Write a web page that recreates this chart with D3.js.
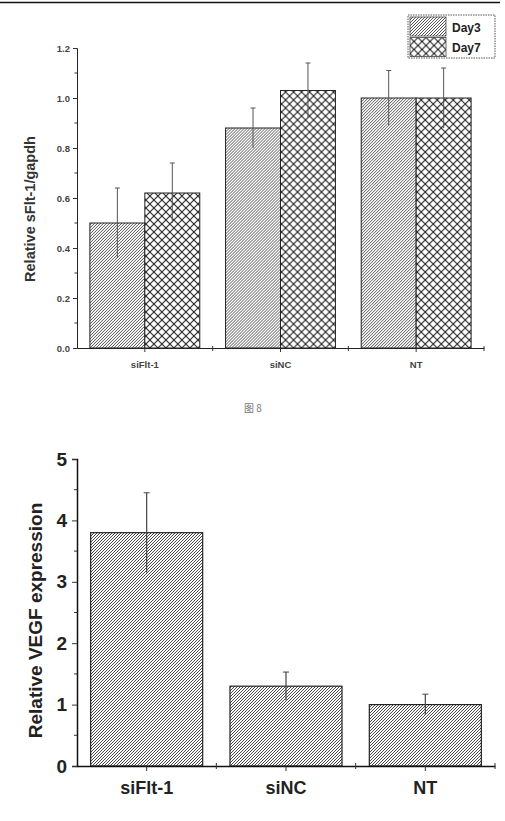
<!DOCTYPE html>
<html>
<head>
<meta charset="utf-8">
<script src="https://cdn.jsdelivr.net/npm/d3@7"></script>
<style>
  html, body { margin: 0; padding: 0; background: #fff; }
  svg { display: block; font-family: 'Liberation Sans', Arial, sans-serif; }
</style>
</head>
<body>
<div id="chart"></div>
<script>
// ---- data ----
const groups = ['siFlt-1', 'siNC', 'NT'];
const seriesNames = ['Day3', 'Day7'];
const day3 = [0.50, 0.88, 1.00];
const day3Err = [0.14, 0.08, 0.11];
const day7 = [0.62, 1.03, 1.00];
const day7Err = [0.12, 0.11, 0.12];
const topTicks = [0.0, 0.2, 0.4, 0.6, 0.8, 1.0, 1.2];
const topTitle = 'Relative sFlt-1/gapdh';

const vegf = [3.80, 1.30, 1.00];
const vegfErr = [0.65, 0.23, 0.17];
const bottomTicks = [0, 1, 2, 3, 4, 5];
const bottomTitle = 'Relative VEGF expression';
const caption = '图 8';

(function () {
  'use strict';

  const W = 505, H = 821;
  const svg = d3.select('#chart').append('svg')
    .attr('width', W).attr('height', H);

  // ---- hatch patterns ----
  const defs = svg.append('defs');

  function diagPattern(id, size, color, sw) {
    const p = defs.append('pattern')
      .attr('id', id)
      .attr('patternUnits', 'userSpaceOnUse')
      .attr('width', size).attr('height', size);
    p.append('rect').attr('width', size).attr('height', size).attr('fill', '#fff');
    p.append('path')
      .attr('d', `M0,${size} L${size},0 M${-size / 2},${size / 2} L${size / 2},${-size / 2} M${size / 2},${size * 1.5} L${size * 1.5},${size / 2}`)
      .attr('stroke', color).attr('stroke-width', sw);
  }
  diagPattern('hatch-day3', 3, '#555', 1);
  diagPattern('hatch-vegf', 3, '#484848', 1);

  const cross = defs.append('pattern')
    .attr('id', 'hatch-day7')
    .attr('patternUnits', 'userSpaceOnUse')
    .attr('width', 8).attr('height', 8);
  cross.append('rect').attr('width', 8).attr('height', 8).attr('fill', '#fff');
  cross.append('path')
    .attr('d', 'M0,0 L8,8 M0,8 L8,0')
    .attr('stroke', '#222').attr('stroke-width', 1.1);

  const fills = { Day3: 'url(#hatch-day3)', Day7: 'url(#hatch-day7)' };

  // top rule line
  svg.append('line')
    .attr('x1', 0).attr('x2', 500).attr('y1', 2.5).attr('y2', 2.5)
    .attr('stroke', '#111').attr('stroke-width', 1.5);

  // =========== TOP CHART ===========
  const tX = d3.scaleBand().domain(groups).range([77, 484])
    .paddingInner(0.19).paddingOuter(0.095);
  const tSub = d3.scaleBand().domain(seriesNames).range([0, tX.bandwidth()]);
  const tY = d3.scaleLinear().domain([0, 1.2]).range([348, 48]);

  const topRows = groups.map((g, i) => ({
    group: g,
    vals: [
      { s: 'Day3', v: day3[i], e: day3Err[i] },
      { s: 'Day7', v: day7[i], e: day7Err[i] },
    ],
  }));

  const tG = svg.append('g');
  const gg = tG.selectAll('g.grp').data(topRows).join('g')
    .attr('transform', d => `translate(${tX(d.group)},0)`);

  gg.selectAll('rect').data(d => d.vals).join('rect')
    .attr('x', d => tSub(d.s))
    .attr('y', d => tY(d.v))
    .attr('width', tSub.bandwidth())
    .attr('height', d => tY(0) - tY(d.v))
    .attr('fill', d => fills[d.s])
    .attr('stroke', '#222').attr('stroke-width', 1);

  // error bars
  const tErr = gg.selectAll('g.err').data(d => d.vals).join('g')
    .attr('transform', d => `translate(${tSub(d.s) + tSub.bandwidth() / 2},0)`);
  tErr.append('line')
    .attr('y1', d => tY(d.v - d.e)).attr('y2', d => tY(d.v + d.e))
    .attr('stroke', '#555').attr('stroke-width', 1);
  tErr.append('line')
    .attr('x1', -2.5).attr('x2', 2.5)
    .attr('y1', d => tY(d.v + d.e)).attr('y2', d => tY(d.v + d.e))
    .attr('stroke', '#555').attr('stroke-width', 1);

  // y axis
  const tYAxis = tG.append('g').attr('transform', 'translate(77,0)')
    .call(d3.axisLeft(tY).tickValues(topTicks).tickFormat(d3.format('.1f')).tickSize(4).tickPadding(3));
  tYAxis.select('.domain').attr('stroke', '#222');
  tYAxis.selectAll('.tick line').attr('stroke', '#333');
  tYAxis.selectAll('text')
    .attr('font-size', 9.5).attr('font-weight', 'bold').attr('fill', '#444');
  tYAxis.append('g').selectAll('line')
    .data(d3.range(0.1, 1.2, 0.2)).join('line')
    .attr('x1', 0).attr('x2', -2.5)
    .attr('y1', d => tY(d)).attr('y2', d => tY(d))
    .attr('stroke', '#333');

  // x axis
  const tXAxis = tG.append('g').attr('transform', 'translate(0,348)')
    .call(d3.axisBottom(tX).tickSize(4).tickPadding(9).tickSizeOuter(0));
  tXAxis.select('.domain').attr('stroke', '#222');
  tXAxis.selectAll('.tick line').attr('stroke', '#333');
  tXAxis.selectAll('text')
    .attr('font-size', 9.5).attr('font-weight', 'bold').attr('fill', '#444');
  tXAxis.append('g').selectAll('line')
    .data(groups).join('line')
    .attr('x1', d => tX(d) + tX.bandwidth() / 2 + tX.step() / 2)
    .attr('x2', d => tX(d) + tX.bandwidth() / 2 + tX.step() / 2)
    .attr('y1', -2).attr('y2', 3)
    .attr('stroke', '#333');

  tG.append('text')
    .attr('transform', `translate(35,${(tY(0) + tY(1.2)) / 2 + 11}) rotate(-90)`)
    .attr('text-anchor', 'middle')
    .attr('font-size', 14.5).attr('font-weight', 'bold').attr('fill', '#333')
    .text(topTitle);

  // legend
  const leg = tG.append('g').attr('transform', 'translate(408,15)');
  leg.append('rect').attr('width', 87).attr('height', 43)
    .attr('fill', '#fff').attr('stroke', '#555').attr('stroke-width', 1)
    .attr('stroke-dasharray', '1.5,1');
  const legRow = leg.selectAll('g.row').data(seriesNames).join('g')
    .attr('transform', (d, i) => `translate(2,${2 + i * 20.5})`);
  legRow.append('rect')
    .attr('width', 36).attr('height', 19)
    .attr('fill', d => fills[d]).attr('stroke', '#444').attr('stroke-width', 0.8);
  legRow.append('text')
    .attr('x', 42).attr('y', 14.5)
    .attr('font-size', 12).attr('font-weight', 'bold').attr('fill', '#222')
    .text(d => d);

  // caption
  svg.append('text')
    .attr('x', 253).attr('y', 412)
    .attr('text-anchor', 'middle')
    .attr('font-family', "'Noto Sans CJK SC', sans-serif")
    .attr('font-size', 10).attr('fill', '#777')
    .text(caption);

  // =========== BOTTOM CHART ===========
  const bX = d3.scaleBand().domain(groups).range([77, 495])
    .paddingInner(0.196).paddingOuter(0.098);
  const bY = d3.scaleLinear().domain([0, 5]).range([766, 459]);

  const bottomRows = groups.map((g, i) => ({ group: g, v: vegf[i], e: vegfErr[i] }));
  const bG = svg.append('g');

  bG.selectAll('rect.bar').data(bottomRows).join('rect')
    .attr('class', 'bar')
    .attr('x', d => bX(d.group))
    .attr('y', d => bY(d.v))
    .attr('width', bX.bandwidth())
    .attr('height', d => bY(0) - bY(d.v))
    .attr('fill', 'url(#hatch-vegf)')
    .attr('stroke', '#222').attr('stroke-width', 1.2);

  const bErr = bG.selectAll('g.err').data(bottomRows).join('g')
    .attr('transform', d => `translate(${bX(d.group) + bX.bandwidth() / 2},0)`);
  bErr.append('line')
    .attr('y1', d => bY(d.v - d.e)).attr('y2', d => bY(d.v + d.e))
    .attr('stroke', '#444').attr('stroke-width', 1.2);
  bErr.append('line')
    .attr('x1', -3).attr('x2', 3)
    .attr('y1', d => bY(d.v + d.e)).attr('y2', d => bY(d.v + d.e))
    .attr('stroke', '#444').attr('stroke-width', 1);

  const bYAxis = bG.append('g').attr('transform', 'translate(77,0)')
    .call(d3.axisLeft(bY).tickValues(bottomTicks).tickFormat(d3.format('d')).tickSize(5).tickPadding(5));
  bYAxis.select('.domain').attr('stroke', '#111').attr('stroke-width', 1.5);
  bYAxis.selectAll('.tick line').attr('stroke', '#333');
  bYAxis.selectAll('text')
    .attr('font-size', 19).attr('font-weight', 'bold').attr('fill', '#222');
  bYAxis.append('g').selectAll('line')
    .data(d3.range(0.5, 5, 1)).join('line')
    .attr('x1', 0).attr('x2', -3)
    .attr('y1', d => bY(d)).attr('y2', d => bY(d))
    .attr('stroke', '#333');

  const bXAxis = bG.append('g').attr('transform', 'translate(0,766)')
    .call(d3.axisBottom(bX).tickSize(5).tickPadding(10).tickSizeOuter(0));
  bXAxis.select('.domain').attr('stroke', '#111').attr('stroke-width', 1.5);
  bXAxis.selectAll('.tick line').attr('stroke', '#333');
  bXAxis.selectAll('text')
    .attr('font-size', 18).attr('font-weight', 'bold').attr('fill', '#222');
  bXAxis.append('g').selectAll('line')
    .data(groups).join('line')
    .attr('x1', d => bX(d) + bX.bandwidth() / 2 + bX.step() / 2)
    .attr('x2', d => bX(d) + bX.bandwidth() / 2 + bX.step() / 2)
    .attr('y1', -3).attr('y2', 3)
    .attr('stroke', '#333');

  bG.append('text')
    .attr('transform', `translate(42,${(bY(0) + bY(5)) / 2 + 8}) rotate(-90)`)
    .attr('text-anchor', 'middle')
    .attr('font-size', 19).attr('font-weight', 'bold').attr('fill', '#222')
    .text(bottomTitle);
})();
</script>
</body>
</html>
